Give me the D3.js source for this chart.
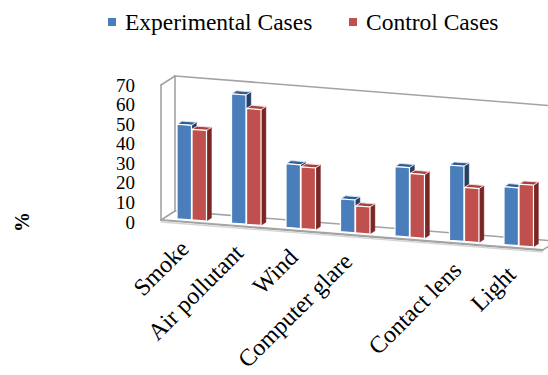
<!DOCTYPE html>
<html>
<head>
<meta charset="utf-8">
<script src="https://cdn.jsdelivr.net/npm/d3@7"></script>
<style>
  body { margin: 0; background: #ffffff; }
  svg { display: block; }
  text { font-family: "Liberation Serif", "Times New Roman", serif; fill: #000; }
</style>
</head>
<body>
<script>
// Chart data
const categories = ["Smoke", "Air pollutant", "Wind", "Computer glare", "", "Contact lens", "Light"];
const seriesNames = ["Experimental Cases", "Control Cases"];
const experimental = [49, 67, 33, 17, 36, 39, 30];
const control = [47, 60, 32, 14, 33, 28, 32];
const yTicks = [0, 10, 20, 30, 40, 50, 60, 70];

const seriesValues = [experimental, control];
const W = 548, H = 375;

const svg = d3.select("body").append("svg")
  .attr("width", W).attr("height", H);

// Oblique 3D projection: u runs along the category axis, v is the value,
// w is depth (0 = front of the floor, 1 = back wall).
const origin = [161, 220];
const slope = 0.079;
const depth = [14, -9];
const uMax = 381.5;

const xBand = d3.scaleBand()
  .domain(d3.range(categories.length))
  .range([0, uMax])
  .paddingInner(0.459)
  .paddingOuter(0.23);
const xSub = d3.scaleBand()
  .domain(d3.range(seriesValues.length))
  .range([0, xBand.bandwidth()])
  .paddingInner(0.04);
const yScale = d3.scaleLinear().domain([0, 70]).range([0, 135]);

function P(u, v, w) {
  return [origin[0] + u + depth[0] * w,
          origin[1] + slope * u - yScale(v) + depth[1] * w];
}
const poly = pts => "M" + pts.map(p => p.join(",")).join("L") + "Z";

// Walls and floor of the box
const frame = svg.append("g")
  .attr("fill", "none")
  .attr("stroke", "#a3a3a3")
  .attr("stroke-width", 1.6)
  .attr("stroke-linecap", "round");
const vMax = yTicks[yTicks.length - 1];
const edges = [
  [P(0, 0, 0), P(0, vMax, 0)],
  [P(0, vMax, 0), P(0, vMax, 1)],
  [P(0, 0, 0), P(0, 0, 1)],
  [P(0, 0, 1), P(0, vMax, 1)],
  [P(0, vMax, 1), P(uMax, vMax, 1)],
  [P(0, 0, 1), P(uMax, 0, 1)],
  [P(uMax, 0, 0), P(uMax, 0, 1)],
  [P(uMax, 0, 1), P(uMax, vMax, 1)]
];
frame.selectAll("line.edge").data(edges).join("line")
  .attr("class", "edge")
  .attr("x1", d => d[0][0]).attr("y1", d => d[0][1])
  .attr("x2", d => d[1][0]).attr("y2", d => d[1][1]);
// front edge of the floor slab
frame.append("line")
  .attr("x1", P(0, 0, 0)[0]).attr("y1", P(0, 0, 0)[1])
  .attr("x2", P(uMax, 0, 0)[0]).attr("y2", P(uMax, 0, 0)[1])
  .attr("stroke-width", 2.2);
frame.append("line")
  .attr("x1", P(0, 0, 0)[0]).attr("y1", P(0, 0, 0)[1] + 2)
  .attr("x2", P(uMax, 0, 0)[0]).attr("y2", P(uMax, 0, 0)[1] + 2)
  .attr("stroke", "#d6d6d6").attr("stroke-width", 1.4);

// Bars as boxes: right side, top, then front face
const palette = [
  { front: "#4a7ebb", top: "#2f5d93", side: "#223f66", edge: "#dbe6f4" },
  { front: "#c0504d", top: "#a8403d", side: "#7a2624", edge: "#f4dcdb" }
];
const w0 = 0.25, w1 = 0.6;
const bars = [];
categories.forEach((c, i) => {
  seriesValues.forEach((vals, s) => {
    bars.push({ i, s, v: vals[i] });
  });
});
const barG = svg.append("g");
bars.forEach(b => {
  const u0 = xBand(b.i) + xSub(b.s);
  const u1 = u0 + xSub.bandwidth();
  const col = palette[b.s];
  const g = barG.append("g");
  g.append("path")
    .attr("d", poly([P(u1, 0, w0), P(u1, 0, w1), P(u1, b.v, w1), P(u1, b.v, w0)]))
    .attr("fill", col.side).attr("stroke", col.side).attr("stroke-width", 0.5);
  g.append("path")
    .attr("d", poly([P(u0, b.v, w0), P(u1, b.v, w0), P(u1, b.v, w1), P(u0, b.v, w1)]))
    .attr("fill", col.top).attr("stroke", col.edge).attr("stroke-width", 1);
  g.append("path")
    .attr("d", poly([P(u0, 0, w0), P(u1, 0, w0), P(u1, b.v, w0), P(u0, b.v, w0)]))
    .attr("fill", col.front).attr("stroke", "#ffffff").attr("stroke-width", 1.2);
});

// Value axis labels
const labelY = d3.scaleLinear().domain([0, 70]).range([222, 85]);
svg.append("g").selectAll("text").data(yTicks).join("text")
  .attr("x", 135)
  .attr("y", d => labelY(d))
  .attr("text-anchor", "end")
  .attr("dominant-baseline", "central")
  .attr("font-size", 19)
  .text(d => d);

// Axis title
svg.append("text")
  .attr("transform", "translate(29,222) rotate(-90)")
  .attr("text-anchor", "middle")
  .attr("font-size", 20)
  .attr("font-weight", "bold")
  .text("%");

// Category labels, rotated
svg.append("g").selectAll("text")
  .data(categories.map((c, i) => ({ c, i })).filter(d => d.c !== ""))
  .join("text")
  .attr("transform", d => {
    const p = P(xBand(d.i) + xBand.bandwidth() / 2, 0, 0);
    return `translate(${p[0] + 2},${p[1] + 28}) rotate(-45)`;
  })
  .attr("text-anchor", "end")
  .attr("font-size", 24)
  .text(d => d.c);

// Legend
const legendX = [108, 349];
const legend = svg.append("g").selectAll("g").data(seriesNames).join("g")
  .attr("transform", (d, i) => `translate(${legendX[i]},18)`);
legend.append("rect")
  .attr("width", 8).attr("height", 8)
  .attr("fill", (d, i) => palette[i].front);
legend.append("text")
  .attr("x", 17).attr("y", 12)
  .attr("font-size", 23.5)
  .text(d => d);
</script>
</body>
</html>
